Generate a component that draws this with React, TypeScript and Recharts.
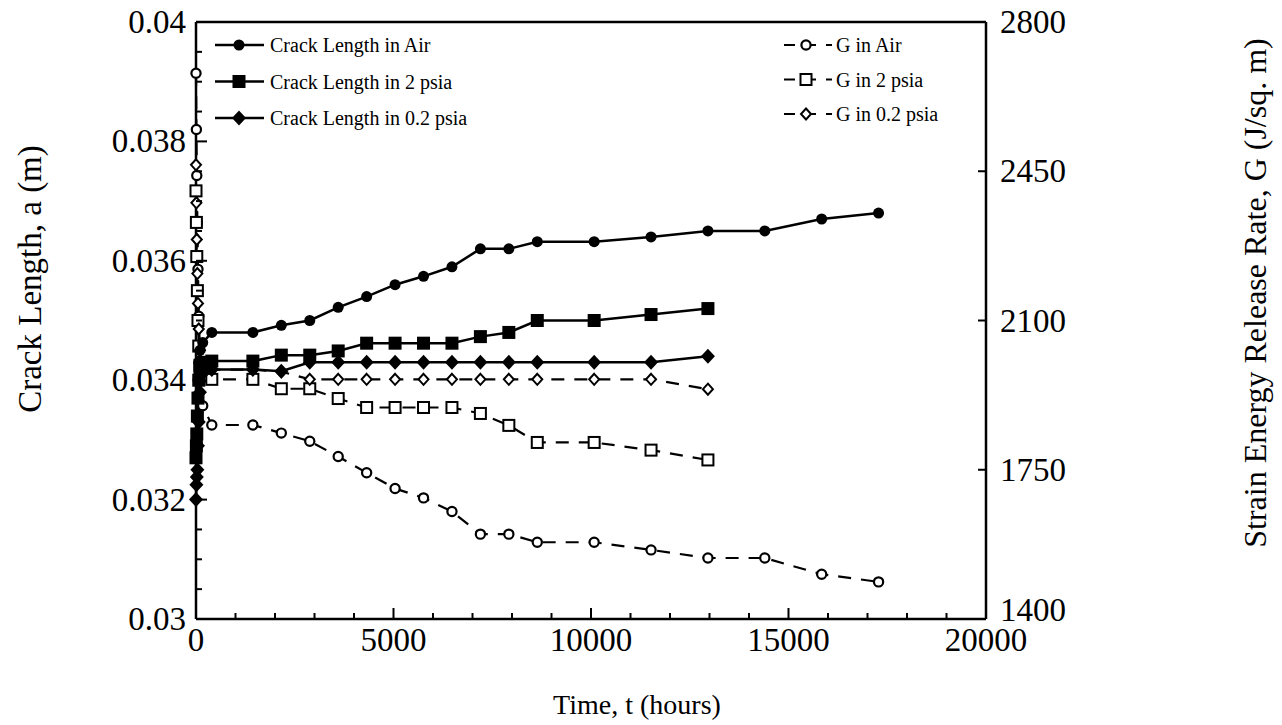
import React from 'react';
import { LineChart, Line, XAxis, YAxis } from 'recharts';

const SERIF = '"Liberation Serif", "Times New Roman", Times, serif';

// hours: a few readings in the first week, then roughly monthly
const hoursAir = [0, 10, 20, 35, 50, 70, 100, 170, 400, 1440, 2160, 2880, 3600, 4320, 5040, 5760, 6480, 7200, 7920, 8640, 10080, 11520, 12960, 14400, 15840, 17280];
const hours2psia = [0, 10, 20, 35, 50, 70, 100, 150, 400, 1440, 2160, 2880, 3600, 4320, 5040, 5760, 6480, 7200, 7920, 8640, 10080, 11520, 12960];
const hours02psia = [0, 10, 20, 35, 50, 70, 100, 150, 400, 1440, 2160, 2880, 3600, 4320, 5040, 5760, 6480, 7200, 7920, 8640, 10080, 11520, 12960];

// crack length a (m)
const crackAir = [0.0328, 0.0331, 0.0334, 0.0337, 0.034, 0.0343, 0.0345, 0.03463, 0.0348, 0.0348, 0.03492, 0.035, 0.03522, 0.0354, 0.0356, 0.03574, 0.0359, 0.0362, 0.0362, 0.03632, 0.03632, 0.0364, 0.0365, 0.0365, 0.0367, 0.0368];
const crack2psia = [0.0327, 0.0329, 0.0331, 0.0334, 0.0337, 0.034, 0.0342, 0.0343, 0.03432, 0.03432, 0.03442, 0.03442, 0.03449, 0.03462, 0.03462, 0.03462, 0.03462, 0.03473, 0.0348, 0.035, 0.035, 0.0351, 0.0352];
const crack02psia = [0.032, 0.03225, 0.03238, 0.0325, 0.0329, 0.0333, 0.0338, 0.0341, 0.03418, 0.03418, 0.03415, 0.0343, 0.0343, 0.0343, 0.0343, 0.0343, 0.0343, 0.0343, 0.0343, 0.0343, 0.0343, 0.0343, 0.0344];

// strain energy release rate G (J/sq. m)
const gAir = [2680, 2548, 2440, 2330, 2220, 2110, 2000, 1900, 1855, 1855, 1836, 1817, 1781, 1743, 1706, 1684, 1652, 1599, 1599, 1580, 1580, 1562, 1543, 1543, 1505, 1487];
const g2psia = [2404, 2330, 2250, 2170, 2100, 2040, 1995, 1970, 1962, 1962, 1940, 1940, 1917, 1896, 1896, 1896, 1896, 1882, 1854, 1814, 1814, 1796, 1773];
const g02psia = [2465, 2376, 2290, 2210, 2140, 2080, 2030, 1995, 1985, 1985, 1980, 1962, 1962, 1962, 1962, 1962, 1962, 1962, 1962, 1962, 1962, 1962, 1939];

const hourTicks = [0, 1000, 2000, 3000, 4000, 5000, 6000, 7000, 8000, 9000, 10000, 11000, 12000, 13000, 14000, 15000, 16000, 17000, 18000, 19000, 20000];
const crackTicks = [0.03, 0.0305, 0.031, 0.0315, 0.032, 0.0325, 0.033, 0.0335, 0.034, 0.0345, 0.035, 0.0355, 0.036, 0.0365, 0.037, 0.0375, 0.038, 0.0385, 0.039, 0.0395, 0.04];
const gTicks = [1400, 1750, 2100, 2450, 2800];

const toPoints = (t: number[], v: number[]) => t.map((h, i) => ({ t: h, v: v[i] }));

type P = { cx: number; cy: number };
const FilledCircle = ({ cx, cy }: P) => <circle cx={cx} cy={cy} r={5.5} fill="#000" />;
const FilledSquare = ({ cx, cy }: P) => <rect x={cx - 6.5} y={cy - 6.5} width={13} height={13} fill="#000" />;
const FilledDiamond = ({ cx, cy }: P) => (
  <polygon points={`${cx},${cy - 7.5} ${cx + 7},${cy} ${cx},${cy + 7.5} ${cx - 7},${cy}`} fill="#000" />
);
const OpenCircle = ({ cx, cy }: P) => <circle cx={cx} cy={cy} r={4.6} fill="#fff" stroke="#000" strokeWidth={2.2} />;
const OpenSquare = ({ cx, cy }: P) => (
  <rect x={cx - 5.5} y={cy - 5.5} width={11} height={11} fill="#fff" stroke="#000" strokeWidth={2} />
);
const OpenDiamond = ({ cx, cy }: P) => (
  <polygon points={`${cx},${cy - 5.5} ${cx + 5},${cy} ${cx},${cy + 5.5} ${cx - 5},${cy}`} fill="#fff" stroke="#000" strokeWidth={2} />
);

const dotOf = (Shape: React.FC<P>) => (p: any) => <Shape key={`d-${p.index}`} cx={p.cx} cy={p.cy} />;

const BottomTick = ({ x, y, payload }: any) => {
  const major = payload.value % 5000 === 0;
  return (
    <g>
      <line x1={x} y1={y} x2={x} y2={y - (major ? 11 : 6)} stroke="#000" strokeWidth={2} />
      {major && (
        <text x={x} y={y + 32} textAnchor="middle" fontFamily={SERIF} fontSize={33} fill="#000">
          {payload.value}
        </text>
      )}
    </g>
  );
};

const TopTick = ({ x, y }: any) => <line x1={x} y1={y} x2={x} y2={y + 7} stroke="#000" strokeWidth={2} />;

const LeftTick = ({ x, y, payload }: any) => {
  const major = Math.round(payload.value * 2000) % 4 === 0;
  return (
    <g>
      <line x1={x} y1={y} x2={x + (major ? 11 : 6)} y2={y} stroke="#000" strokeWidth={2} />
      {major && (
        <text x={x - 10} y={y + 11} textAnchor="end" fontFamily={SERIF} fontSize={33} fill="#000">
          {Number(payload.value.toFixed(4)).toString()}
        </text>
      )}
    </g>
  );
};

// the bottom label sits higher so it clears the 20000 hour label
const RightTick = ({ x, y, payload }: any) => (
  <g>
    <line x1={x} y1={y} x2={x - 8} y2={y} stroke="#000" strokeWidth={2} />
    <text x={x + 14} y={y + (payload.value === 1400 ? 2 : 11)} textAnchor="start" fontFamily={SERIF} fontSize={33} fill="#000">
      {payload.value}
    </text>
  </g>
);

const crackLegend = [
  { label: 'Crack Length in Air', Shape: FilledCircle },
  { label: 'Crack Length in 2 psia', Shape: FilledSquare },
  { label: 'Crack Length in 0.2 psia', Shape: FilledDiamond },
];
const gLegend = [
  { label: 'G in Air', Shape: OpenCircle },
  { label: 'G in 2 psia', Shape: OpenSquare },
  { label: 'G in 0.2 psia', Shape: OpenDiamond },
];

export default function App() {
  return (
    <div style={{ position: 'absolute', left: 0, top: 0, width: 1282, height: 725, background: '#fff' }}>
      <LineChart width={1282} height={725} margin={{ top: 12, right: 236, bottom: 76, left: 136 }}>
        <XAxis
          xAxisId="h"
          dataKey="t"
          type="number"
          domain={[0, 20000]}
          ticks={hourTicks}
          interval={0}
          height={30}
          tickSize={0}
          tickMargin={0}
          tickLine={false}
          axisLine={{ stroke: '#000', strokeWidth: 2.5 }}
          tick={<BottomTick />}
        />
        <XAxis
          xAxisId="top"
          orientation="top"
          type="number"
          domain={[0, 20000]}
          ticks={hourTicks}
          interval={0}
          height={10}
          tickSize={0}
          tickMargin={0}
          tickLine={false}
          axisLine={{ stroke: '#000', strokeWidth: 2.5 }}
          tick={<TopTick />}
        />
        <YAxis
          yAxisId="a"
          type="number"
          domain={[0.03, 0.04]}
          ticks={crackTicks}
          interval={0}
          width={60}
          tickSize={0}
          tickMargin={0}
          tickLine={false}
          axisLine={{ stroke: '#000', strokeWidth: 2.5 }}
          tick={<LeftTick />}
        />
        <YAxis
          yAxisId="g"
          orientation="right"
          type="number"
          domain={[1400, 2800]}
          ticks={gTicks}
          interval={0}
          width={60}
          tickSize={0}
          tickMargin={0}
          tickLine={false}
          axisLine={{ stroke: '#000', strokeWidth: 2.5 }}
          tick={<RightTick />}
        />

        <Line data={toPoints(hoursAir, gAir)} dataKey="v" xAxisId="h" yAxisId="g" stroke="#000" strokeWidth={2.2} strokeDasharray="13 10" dot={dotOf(OpenCircle)} activeDot={false} isAnimationActive={false} />
        <Line data={toPoints(hours2psia, g2psia)} dataKey="v" xAxisId="h" yAxisId="g" stroke="#000" strokeWidth={2.2} strokeDasharray="13 10" dot={dotOf(OpenSquare)} activeDot={false} isAnimationActive={false} />
        <Line data={toPoints(hours02psia, g02psia)} dataKey="v" xAxisId="h" yAxisId="g" stroke="#000" strokeWidth={2.2} strokeDasharray="13 10" dot={dotOf(OpenDiamond)} activeDot={false} isAnimationActive={false} />
        <Line data={toPoints(hoursAir, crackAir)} dataKey="v" xAxisId="h" yAxisId="a" stroke="#000" strokeWidth={2.5} dot={dotOf(FilledCircle)} activeDot={false} isAnimationActive={false} />
        <Line data={toPoints(hours2psia, crack2psia)} dataKey="v" xAxisId="h" yAxisId="a" stroke="#000" strokeWidth={2.5} dot={dotOf(FilledSquare)} activeDot={false} isAnimationActive={false} />
        <Line data={toPoints(hours02psia, crack02psia)} dataKey="v" xAxisId="h" yAxisId="a" stroke="#000" strokeWidth={2.5} dot={dotOf(FilledDiamond)} activeDot={false} isAnimationActive={false} />
      </LineChart>

      {/* legends and axis titles */}
      <svg width={1282} height={725} style={{ position: 'absolute', left: 0, top: 0, pointerEvents: 'none' }}>
        {crackLegend.map(({ label, Shape }, i) => {
          const y = 45 + i * 36.5;
          return (
            <g key={label}>
              <line x1={215} y1={y} x2={264} y2={y} stroke="#000" strokeWidth={2.5} />
              <Shape cx={239} cy={y} />
              <text x={270} y={y + 7} fontFamily={SERIF} fontSize={20} fill="#000">{label}</text>
            </g>
          );
        })}
        {gLegend.map(({ label, Shape }, i) => {
          const y = 45 + i * 34.5;
          return (
            <g key={label}>
              <line x1={784} y1={y} x2={832} y2={y} stroke="#000" strokeWidth={2.2} strokeDasharray="11 10" />
              <Shape cx={806} cy={y} />
              <text x={836} y={y + 7} fontFamily={SERIF} fontSize={20} fill="#000">{label}</text>
            </g>
          );
        })}
        <text x={637} y={714} textAnchor="middle" fontFamily={SERIF} fontSize={28} fill="#000">Time, t (hours)</text>
        <text transform="translate(41, 279) rotate(-90)" textAnchor="middle" fontFamily={SERIF} fontSize={33} fill="#000">Crack Length, a (m)</text>
        <text transform="translate(1266, 293) rotate(-90)" textAnchor="middle" fontFamily={SERIF} fontSize={32} fill="#000">Strain Energy Release Rate, G (J/sq. m)</text>
      </svg>
    </div>
  );
}
